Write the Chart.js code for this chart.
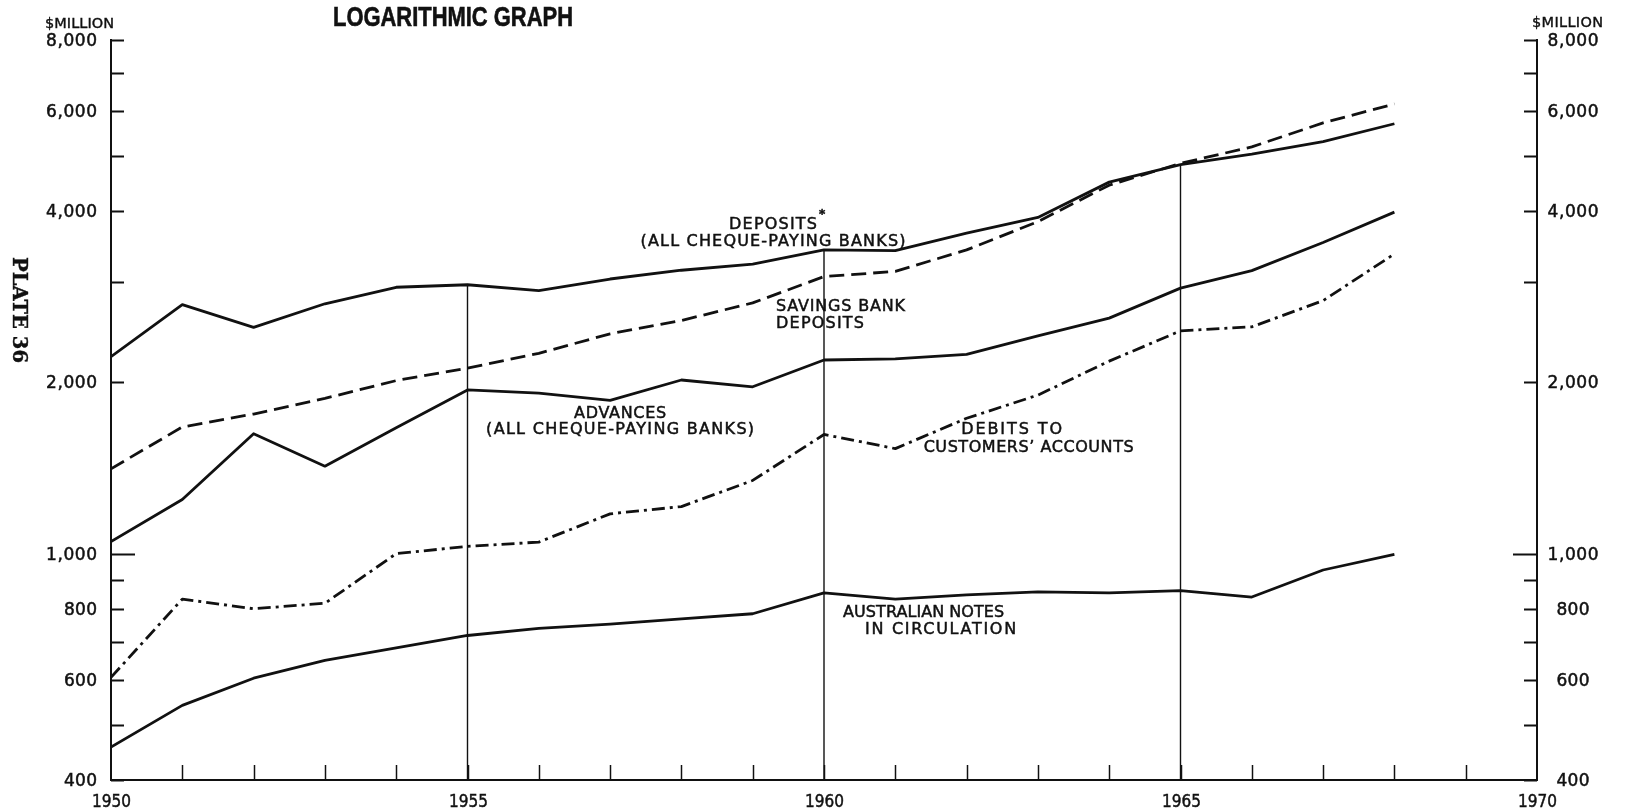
<!DOCTYPE html>
<html>
<head>
<meta charset="utf-8">
<script src="https://cdn.jsdelivr.net/npm/chart.js@4.4.1/dist/chart.umd.min.js"></script>
<style>
  html, body { margin: 0; padding: 0; background: #ffffff; }
  #wrap { width: 1631px; height: 809px; position: relative; }
  canvas { display: block; }
</style>
</head>
<body>
<div id="wrap"><canvas id="chart" width="1631" height="809"></canvas></div>
<script>
// Annual figures, $ million
const years = [1950, 1951, 1952, 1953, 1954, 1955, 1956, 1957, 1958, 1959,
               1960, 1961, 1962, 1963, 1964, 1965, 1966, 1967, 1968];
const deposits = [2220, 2740, 2500, 2750, 2940, 2970, 2900, 3040, 3150, 3230,
                  3420, 3410, 3660, 3900, 4500, 4830, 5040, 5300, 5700];
const savingsBankDeposits = [1410, 1670, 1760, 1875, 2015, 2120, 2250, 2435, 2570, 2760,
                             3070, 3135, 3420, 3835, 4445, 4855, 5190, 5720, 6175];
const advances = [1050, 1245, 1625, 1425, 1665, 1940, 1915, 1860, 2020, 1965,
                  2190, 2200, 2240, 2415, 2595, 2930, 3145, 3525, 3985];
const debitsToCustomersAccounts = [606, 832, 800, 818, 1000, 1030, 1048, 1175, 1210, 1345,
                                   1620, 1530, 1730, 1900, 2180, 2465, 2505, 2785, 3365];
const notesInCirculation = [457, 541, 604, 649, 683, 718, 739, 752, 768, 784,
                            853, 832, 846, 857, 853, 861, 839, 936, 997];

// Axis ticks
const yTickValues = [400, 500, 600, 700, 800, 900, 1000, 2000, 3000, 4000, 5000, 6000, 7000, 8000];
const yTickLabels = ['400', '', '600', '', '800', '', '1,000', '2,000', '', '4,000', '', '6,000', '', '8,000'];
const xTickValues = [1950, 1951, 1952, 1953, 1954, 1955, 1956, 1957, 1958, 1959, 1960,
                     1961, 1962, 1963, 1964, 1965, 1966, 1967, 1968, 1969, 1970];
const xTickLabels = ['1950', '', '', '', '', '1955', '', '', '', '', '1960',
                     '', '', '', '', '1965', '', '', '', '', '1970'];
const markerYears = [1955, 1960, 1965];

const INK = '#111111';
const LABEL_FONT = '16px "DejaVu Sans", sans-serif';
const TICK_FONT = '17px "DejaVu Sans", sans-serif';

const toPoints = (vals) => years.map((yr, i) => ({ x: yr, y: vals[i] }));

// Vertical rules from the base up to the deposits line
const markerSets = markerYears.map((yr) => ({
  data: [{ x: yr, y: 400 }, { x: yr, y: deposits[years.indexOf(yr)] }],
  borderColor: INK, borderWidth: 1.4, pointRadius: 0, order: 10
}));

const seriesStyle = { borderColor: INK, borderWidth: 2.8, pointRadius: 0, tension: 0,
                      borderJoinStyle: 'round', borderCapStyle: 'butt', fill: false };

// Text fitted to a given width; a hairline stroke gives the lettering some weight
function drawText(ctx, text, x, y, opt) {
  ctx.save();
  ctx.font = opt.font;
  ctx.fillStyle = INK;
  ctx.strokeStyle = INK;
  ctx.lineWidth = opt.weight != null ? opt.weight : 0.5;
  ctx.textBaseline = 'middle';
  ctx.textAlign = 'left';
  ctx.letterSpacing = '0px';
  const natural = ctx.measureText(text).width;
  const w = opt.width != null ? opt.width : natural;
  let left = x;
  if (opt.align === 'center') left = x - w / 2;
  else if (opt.align === 'right') left = x - w;
  if (w < natural) {
    ctx.fillText(text, left, y, w);
    if (ctx.lineWidth > 0) ctx.strokeText(text, left, y, w);
  } else {
    const n = [...text].length;
    const ls = n > 1 ? (w - natural) / (n - 1) : 0;
    ctx.letterSpacing = ls + 'px';
    ctx.fillText(text, left, y);
    if (ctx.lineWidth > 0) ctx.strokeText(text, left, y);
  }
  ctx.restore();
}

// Series captions placed in data coordinates (year, $ million)
const captions = [
  { lines: ['DEPOSITS', '(ALL CHEQUE-PAYING BANKS)'], year: 1959.285, value: 3780, widths: [88, 265], align: 'center', star: true, gap: 17 },
  { lines: ['SAVINGS BANK', 'DEPOSITS'], year: 1959.327, value: 2720, widths: [129, 88], align: 'left', gap: 17 },
  { lines: ['ADVANCES', '(ALL CHEQUE-PAYING BANKS)'], year: 1957.14, value: 1760, widths: [92, 268], align: 'center', gap: 16 },
  { lines: ['DEBITS TO', 'CUSTOMERS\u2019 ACCOUNTS'], year: 1962.87, value: 1650, widths: [101, 210], align: 'center', offsets: [-17, 0], gap: 18 },
  { lines: ['AUSTRALIAN NOTES', 'IN CIRCULATION'], year: 1960.268, value: 787, widths: [161, 151], align: 'left', offsets: [0, 22], gap: 17 }
];

const decorations = {
  id: 'decorations',
  afterDraw(chart) {
    const ctx = chart.ctx;
    const xs = chart.scales.x, ys = chart.scales.y;
    const area = chart.chartArea;
    ctx.save();
    ctx.strokeStyle = INK;
    ctx.lineWidth = 1.8;
    ctx.lineCap = 'butt';

    // y tick marks pointing inward on both sides, with labels
    yTickValues.forEach((v, i) => {
      const py = Math.round(ys.getPixelForValue(v)) + 0.5;
      const len = v === 1000 ? 24 : 13;
      ctx.beginPath();
      ctx.moveTo(area.left, py); ctx.lineTo(area.left + len, py);
      ctx.moveTo(area.right, py); ctx.lineTo(area.right - len, py);
      ctx.stroke();
      const lab = yTickLabels[i];
      if (lab) {
        const w = lab.length === 3 ? 33 : 51;
        drawText(ctx, lab, area.left - 14, py + 1, { font: TICK_FONT, width: w, align: 'right' });
        drawText(ctx, lab, area.right + 36, py + 1, { font: TICK_FONT, width: w, align: 'center' });
      }
    });

    // x tick marks pointing upward, with year labels
    ctx.lineWidth = 1.5;
    xTickValues.forEach((v, i) => {
      const px = Math.round(xs.getPixelForValue(v)) + 0.5;
      if (v > 1950 && v < 1970) {
        ctx.beginPath();
        ctx.moveTo(px, area.bottom); ctx.lineTo(px, area.bottom - 15);
        ctx.stroke();
      }
      const lab = xTickLabels[i];
      if (lab) {
        drawText(ctx, lab, px, area.bottom + 22, { font: '18px "DejaVu Sans", sans-serif', width: 39, align: 'center' });
      }
    });
    ctx.restore();

    // Units over both axes
    drawText(ctx, '$MILLION', 45, 24, { font: '14.5px "DejaVu Sans", sans-serif', width: 69, align: 'left', weight: 0.4 });
    drawText(ctx, '$MILLION', 1532, 23, { font: '14.5px "DejaVu Sans", sans-serif', width: 71, align: 'left', weight: 0.4 });

    // Heading
    drawText(ctx, 'LOGARITHMIC GRAPH', 333, 19, { font: 'bold 27px "Liberation Sans", Arial, sans-serif', width: 240, align: 'left', weight: 0.6 });

    // Plate number, set sideways in the margin
    ctx.save();
    ctx.translate(18, 310);
    ctx.rotate(Math.PI / 2);
    drawText(ctx, 'PLATE 36', 0, 0, { font: 'bold 21px "DejaVu Serif", serif', width: 106, align: 'center', weight: 0.4 });
    ctx.restore();

    // Series captions
    captions.forEach((c) => {
      const px = xs.getPixelForValue(c.year);
      const py = ys.getPixelForValue(c.value);
      c.lines.forEach((line, k) => {
        const dx = c.offsets ? c.offsets[k] : 0;
        drawText(ctx, line, px + dx, py + k * c.gap, { font: LABEL_FONT, width: c.widths[k], align: c.align });
      });
      if (c.star) {
        const endX = px + c.widths[0] / 2;
        drawText(ctx, '*', endX + 5, py - 10, { font: 'bold 12px "DejaVu Sans", sans-serif', align: 'center' });
      }
    });
  }
};

const axisBorder = { display: true, color: INK, width: 2 };

new Chart(document.getElementById('chart'), {
  type: 'line',
  data: {
    datasets: [
      Object.assign({ label: 'Deposits (all cheque-paying banks)', data: toPoints(deposits) }, seriesStyle),
      Object.assign({ label: 'Savings bank deposits', data: toPoints(savingsBankDeposits), borderDash: [15, 7] }, seriesStyle),
      Object.assign({ label: 'Advances (all cheque-paying banks)', data: toPoints(advances) }, seriesStyle),
      Object.assign({ label: "Debits to customers' accounts", data: toPoints(debitsToCustomersAccounts), borderDash: [13, 5, 3, 5] }, seriesStyle),
      Object.assign({ label: 'Australian notes in circulation', data: toPoints(notesInCirculation) }, seriesStyle),
      ...markerSets
    ]
  },
  options: {
    responsive: false,
    devicePixelRatio: 1,
    animation: false,
    layout: { padding: { top: 40, left: 0, right: 0, bottom: 0 } },
    plugins: { legend: { display: false }, title: { display: false }, tooltip: { enabled: false } },
    scales: {
      x: {
        type: 'linear', position: 'bottom', min: 1950, max: 1970,
        grid: { display: false }, border: axisBorder,
        ticks: { display: false },
        afterBuildTicks: (s) => { s.ticks = xTickValues.map((v) => ({ value: v })); },
        afterFit: (s) => { s.height = 29; }
      },
      y: {
        type: 'logarithmic', position: 'left', min: 400, max: 8000,
        grid: { display: false }, border: axisBorder,
        ticks: { display: false },
        afterBuildTicks: (s) => { s.ticks = yTickValues.map((v) => ({ value: v })); },
        afterFit: (s) => { s.width = 111; }
      },
      y2: {
        type: 'logarithmic', position: 'right', min: 400, max: 8000,
        grid: { display: false }, border: axisBorder,
        ticks: { display: false },
        afterBuildTicks: (s) => { s.ticks = yTickValues.map((v) => ({ value: v })); },
        afterFit: (s) => { s.width = 94; }
      }
    }
  },
  plugins: [decorations]
});
</script>
</body>
</html>
